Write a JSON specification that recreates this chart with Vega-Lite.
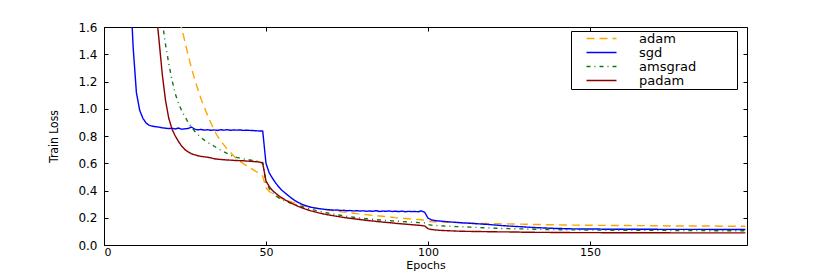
{
  "$schema": "https://vega.github.io/schema/vega-lite/v6.json",
  "width": 643,
  "height": 218,
  "autosize": {"type": "none"},
  "padding": {"left": 104, "top": 27, "right": 83, "bottom": 28},
  "background": "white",
  "config": {"view": {"stroke": null}, "font": "DejaVu Sans"},
  "data": {"values": [
    {"e":0,"adam":2.3,"sgd":2.3,"amsgrad":2.3,"padam":2.3},
    {"e":1,"adam":2.29,"sgd":2.28,"amsgrad":2.27,"padam":2.25},
    {"e":2,"adam":2.27,"sgd":2.26,"amsgrad":2.24,"padam":2.2},
    {"e":3,"adam":2.25,"sgd":2.24,"amsgrad":2.2,"padam":2.15},
    {"e":4,"adam":2.23,"sgd":2.21,"amsgrad":2.16,"padam":2.1},
    {"e":5,"adam":2.2,"sgd":2.18,"amsgrad":2.12,"padam":2.05},
    {"e":6,"adam":2.17,"sgd":2.14,"amsgrad":2.08,"padam":2.01},
    {"e":7,"adam":2.14,"sgd":2.08,"amsgrad":2.05,"padam":1.98},
    {"e":8,"adam":2.11,"sgd":1.95,"amsgrad":2.02,"padam":1.95},
    {"e":9,"adam":2.08,"sgd":1.45,"amsgrad":1.99,"padam":1.93},
    {"e":10,"adam":2.05,"sgd":1.12,"amsgrad":1.96,"padam":1.91},
    {"e":11,"adam":2.02,"sgd":0.99,"amsgrad":1.93,"padam":1.89},
    {"e":12,"adam":1.99,"sgd":0.93,"amsgrad":1.9,"padam":1.87},
    {"e":13,"adam":1.96,"sgd":0.895,"amsgrad":1.87,"padam":1.85},
    {"e":14,"adam":1.93,"sgd":0.878,"amsgrad":1.84,"padam":1.82},
    {"e":15,"adam":1.9,"sgd":0.872,"amsgrad":1.81,"padam":1.79},
    {"e":16,"adam":1.87,"sgd":0.868,"amsgrad":1.77,"padam":1.74},
    {"e":17,"adam":1.84,"sgd":0.865,"amsgrad":1.72,"padam":1.5},
    {"e":18,"adam":1.81,"sgd":0.86,"amsgrad":1.64,"padam":1.25},
    {"e":19,"adam":1.78,"sgd":0.857,"amsgrad":1.47,"padam":1.06},
    {"e":20,"adam":1.75,"sgd":0.855,"amsgrad":1.33,"padam":0.93},
    {"e":21,"adam":1.72,"sgd":0.856,"amsgrad":1.21,"padam":0.85},
    {"e":22,"adam":1.68,"sgd":0.852,"amsgrad":1.11,"padam":0.8},
    {"e":23,"adam":1.64,"sgd":0.858,"amsgrad":1.04,"padam":0.76},
    {"e":24,"adam":1.59,"sgd":0.85,"amsgrad":0.985,"padam":0.725},
    {"e":25,"adam":1.49,"sgd":0.853,"amsgrad":0.94,"padam":0.7},
    {"e":26,"adam":1.39,"sgd":0.855,"amsgrad":0.9,"padam":0.683},
    {"e":27,"adam":1.3,"sgd":0.866,"amsgrad":0.865,"padam":0.67},
    {"e":28,"adam":1.215,"sgd":0.85,"amsgrad":0.835,"padam":0.662},
    {"e":29,"adam":1.14,"sgd":0.845,"amsgrad":0.81,"padam":0.655},
    {"e":30,"adam":1.07,"sgd":0.848,"amsgrad":0.788,"padam":0.65},
    {"e":31,"adam":1.01,"sgd":0.843,"amsgrad":0.77,"padam":0.647},
    {"e":32,"adam":0.95,"sgd":0.846,"amsgrad":0.754,"padam":0.644},
    {"e":33,"adam":0.895,"sgd":0.842,"amsgrad":0.74,"padam":0.64},
    {"e":34,"adam":0.845,"sgd":0.845,"amsgrad":0.725,"padam":0.633},
    {"e":35,"adam":0.8,"sgd":0.841,"amsgrad":0.71,"padam":0.63},
    {"e":36,"adam":0.765,"sgd":0.846,"amsgrad":0.697,"padam":0.628},
    {"e":37,"adam":0.735,"sgd":0.843,"amsgrad":0.685,"padam":0.626},
    {"e":38,"adam":0.705,"sgd":0.847,"amsgrad":0.673,"padam":0.624},
    {"e":39,"adam":0.68,"sgd":0.842,"amsgrad":0.661,"padam":0.623},
    {"e":40,"adam":0.655,"sgd":0.844,"amsgrad":0.65,"padam":0.621},
    {"e":41,"adam":0.633,"sgd":0.843,"amsgrad":0.643,"padam":0.62},
    {"e":42,"adam":0.613,"sgd":0.845,"amsgrad":0.637,"padam":0.619},
    {"e":43,"adam":0.597,"sgd":0.841,"amsgrad":0.632,"padam":0.618},
    {"e":44,"adam":0.582,"sgd":0.843,"amsgrad":0.628,"padam":0.616},
    {"e":45,"adam":0.567,"sgd":0.841,"amsgrad":0.624,"padam":0.615},
    {"e":46,"adam":0.553,"sgd":0.84,"amsgrad":0.62,"padam":0.613},
    {"e":47,"adam":0.538,"sgd":0.838,"amsgrad":0.617,"padam":0.611},
    {"e":48,"adam":0.524,"sgd":0.837,"amsgrad":0.613,"padam":0.609},
    {"e":49,"adam":0.505,"sgd":0.836,"amsgrad":0.605,"padam":0.6},
    {"e":50,"adam":0.42,"sgd":0.6,"amsgrad":0.46,"padam":0.47},
    {"e":51,"adam":0.395,"sgd":0.53,"amsgrad":0.415,"padam":0.43},
    {"e":52,"adam":0.375,"sgd":0.49,"amsgrad":0.385,"padam":0.4},
    {"e":53,"adam":0.358,"sgd":0.455,"amsgrad":0.362,"padam":0.38},
    {"e":54,"adam":0.348,"sgd":0.425,"amsgrad":0.346,"padam":0.36},
    {"e":55,"adam":0.34,"sgd":0.4,"amsgrad":0.334,"padam":0.345},
    {"e":56,"adam":0.33,"sgd":0.38,"amsgrad":0.323,"padam":0.33},
    {"e":57,"adam":0.322,"sgd":0.36,"amsgrad":0.313,"padam":0.317},
    {"e":58,"adam":0.314,"sgd":0.342,"amsgrad":0.304,"padam":0.305},
    {"e":59,"adam":0.307,"sgd":0.325,"amsgrad":0.297,"padam":0.294},
    {"e":60,"adam":0.3,"sgd":0.312,"amsgrad":0.29,"padam":0.283},
    {"e":61,"adam":0.294,"sgd":0.3,"amsgrad":0.283,"padam":0.274},
    {"e":62,"adam":0.288,"sgd":0.291,"amsgrad":0.276,"padam":0.265},
    {"e":63,"adam":0.283,"sgd":0.283,"amsgrad":0.269,"padam":0.257},
    {"e":64,"adam":0.278,"sgd":0.277,"amsgrad":0.262,"padam":0.25},
    {"e":65,"adam":0.273,"sgd":0.272,"amsgrad":0.256,"padam":0.244},
    {"e":66,"adam":0.269,"sgd":0.268,"amsgrad":0.25,"padam":0.238},
    {"e":67,"adam":0.265,"sgd":0.265,"amsgrad":0.245,"padam":0.232},
    {"e":68,"adam":0.261,"sgd":0.262,"amsgrad":0.24,"padam":0.227},
    {"e":69,"adam":0.257,"sgd":0.26,"amsgrad":0.235,"padam":0.222},
    {"e":70,"adam":0.254,"sgd":0.258,"amsgrad":0.23,"padam":0.218},
    {"e":71,"adam":0.251,"sgd":0.256,"amsgrad":0.226,"padam":0.214},
    {"e":72,"adam":0.248,"sgd":0.257,"amsgrad":0.222,"padam":0.21},
    {"e":73,"adam":0.245,"sgd":0.253,"amsgrad":0.218,"padam":0.206},
    {"e":74,"adam":0.242,"sgd":0.255,"amsgrad":0.214,"padam":0.202},
    {"e":75,"adam":0.239,"sgd":0.251,"amsgrad":0.21,"padam":0.199},
    {"e":76,"adam":0.236,"sgd":0.253,"amsgrad":0.207,"padam":0.196},
    {"e":77,"adam":0.233,"sgd":0.25,"amsgrad":0.204,"padam":0.193},
    {"e":78,"adam":0.23,"sgd":0.252,"amsgrad":0.201,"padam":0.19},
    {"e":79,"adam":0.228,"sgd":0.249,"amsgrad":0.198,"padam":0.187},
    {"e":80,"adam":0.225,"sgd":0.251,"amsgrad":0.195,"padam":0.184},
    {"e":81,"adam":0.223,"sgd":0.248,"amsgrad":0.193,"padam":0.181},
    {"e":82,"adam":0.22,"sgd":0.25,"amsgrad":0.19,"padam":0.178},
    {"e":83,"adam":0.218,"sgd":0.247,"amsgrad":0.188,"padam":0.176},
    {"e":84,"adam":0.215,"sgd":0.252,"amsgrad":0.186,"padam":0.173},
    {"e":85,"adam":0.213,"sgd":0.246,"amsgrad":0.184,"padam":0.171},
    {"e":86,"adam":0.211,"sgd":0.249,"amsgrad":0.182,"padam":0.168},
    {"e":87,"adam":0.208,"sgd":0.247,"amsgrad":0.18,"padam":0.166},
    {"e":88,"adam":0.206,"sgd":0.25,"amsgrad":0.178,"padam":0.164},
    {"e":89,"adam":0.204,"sgd":0.246,"amsgrad":0.177,"padam":0.162},
    {"e":90,"adam":0.201,"sgd":0.248,"amsgrad":0.175,"padam":0.159},
    {"e":91,"adam":0.199,"sgd":0.245,"amsgrad":0.174,"padam":0.157},
    {"e":92,"adam":0.197,"sgd":0.249,"amsgrad":0.172,"padam":0.155},
    {"e":93,"adam":0.195,"sgd":0.244,"amsgrad":0.171,"padam":0.153},
    {"e":94,"adam":0.193,"sgd":0.247,"amsgrad":0.169,"padam":0.151},
    {"e":95,"adam":0.191,"sgd":0.245,"amsgrad":0.168,"padam":0.149},
    {"e":96,"adam":0.189,"sgd":0.246,"amsgrad":0.167,"padam":0.147},
    {"e":97,"adam":0.187,"sgd":0.244,"amsgrad":0.165,"padam":0.145},
    {"e":98,"adam":0.185,"sgd":0.25,"amsgrad":0.164,"padam":0.143},
    {"e":99,"adam":0.182,"sgd":0.24,"amsgrad":0.162,"padam":0.14},
    {"e":100,"adam":0.174,"sgd":0.198,"amsgrad":0.15,"padam":0.12},
    {"e":101,"adam":0.172,"sgd":0.185,"amsgrad":0.146,"padam":0.114},
    {"e":102,"adam":0.171,"sgd":0.18,"amsgrad":0.144,"padam":0.111},
    {"e":103,"adam":0.17,"sgd":0.177,"amsgrad":0.142,"padam":0.109},
    {"e":104,"adam":0.169,"sgd":0.175,"amsgrad":0.141,"padam":0.107},
    {"e":105,"adam":0.168,"sgd":0.173,"amsgrad":0.139,"padam":0.106},
    {"e":106,"adam":0.167,"sgd":0.171,"amsgrad":0.138,"padam":0.105},
    {"e":107,"adam":0.166,"sgd":0.169,"amsgrad":0.137,"padam":0.104},
    {"e":108,"adam":0.165,"sgd":0.167,"amsgrad":0.136,"padam":0.103},
    {"e":109,"adam":0.164,"sgd":0.166,"amsgrad":0.135,"padam":0.102},
    {"e":110,"adam":0.163,"sgd":0.164,"amsgrad":0.134,"padam":0.101},
    {"e":111,"adam":0.162,"sgd":0.162,"amsgrad":0.133,"padam":0.101},
    {"e":112,"adam":0.161,"sgd":0.161,"amsgrad":0.132,"padam":0.1},
    {"e":113,"adam":0.161,"sgd":0.159,"amsgrad":0.131,"padam":0.1},
    {"e":114,"adam":0.16,"sgd":0.158,"amsgrad":0.13,"padam":0.099},
    {"e":115,"adam":0.159,"sgd":0.156,"amsgrad":0.129,"padam":0.099},
    {"e":116,"adam":0.159,"sgd":0.155,"amsgrad":0.128,"padam":0.099},
    {"e":117,"adam":0.158,"sgd":0.153,"amsgrad":0.127,"padam":0.098},
    {"e":118,"adam":0.158,"sgd":0.152,"amsgrad":0.126,"padam":0.098},
    {"e":119,"adam":0.157,"sgd":0.15,"amsgrad":0.125,"padam":0.097},
    {"e":120,"adam":0.157,"sgd":0.148,"amsgrad":0.124,"padam":0.097},
    {"e":121,"adam":0.156,"sgd":0.146,"amsgrad":0.123,"padam":0.097},
    {"e":122,"adam":0.156,"sgd":0.144,"amsgrad":0.122,"padam":0.096},
    {"e":123,"adam":0.155,"sgd":0.142,"amsgrad":0.121,"padam":0.096},
    {"e":124,"adam":0.155,"sgd":0.141,"amsgrad":0.121,"padam":0.096},
    {"e":125,"adam":0.155,"sgd":0.139,"amsgrad":0.12,"padam":0.096},
    {"e":126,"adam":0.154,"sgd":0.138,"amsgrad":0.119,"padam":0.095},
    {"e":127,"adam":0.154,"sgd":0.136,"amsgrad":0.119,"padam":0.095},
    {"e":128,"adam":0.153,"sgd":0.135,"amsgrad":0.118,"padam":0.095},
    {"e":129,"adam":0.153,"sgd":0.134,"amsgrad":0.118,"padam":0.094},
    {"e":130,"adam":0.152,"sgd":0.132,"amsgrad":0.117,"padam":0.094},
    {"e":131,"adam":0.152,"sgd":0.131,"amsgrad":0.117,"padam":0.094},
    {"e":132,"adam":0.151,"sgd":0.129,"amsgrad":0.116,"padam":0.094},
    {"e":133,"adam":0.151,"sgd":0.128,"amsgrad":0.116,"padam":0.093},
    {"e":134,"adam":0.15,"sgd":0.127,"amsgrad":0.115,"padam":0.093},
    {"e":135,"adam":0.15,"sgd":0.126,"amsgrad":0.115,"padam":0.093},
    {"e":136,"adam":0.15,"sgd":0.125,"amsgrad":0.114,"padam":0.093},
    {"e":137,"adam":0.149,"sgd":0.124,"amsgrad":0.114,"padam":0.093},
    {"e":138,"adam":0.149,"sgd":0.123,"amsgrad":0.114,"padam":0.092},
    {"e":139,"adam":0.148,"sgd":0.122,"amsgrad":0.113,"padam":0.092},
    {"e":140,"adam":0.148,"sgd":0.121,"amsgrad":0.113,"padam":0.092},
    {"e":141,"adam":0.148,"sgd":0.121,"amsgrad":0.112,"padam":0.092},
    {"e":142,"adam":0.147,"sgd":0.12,"amsgrad":0.112,"padam":0.092},
    {"e":143,"adam":0.147,"sgd":0.119,"amsgrad":0.112,"padam":0.092},
    {"e":144,"adam":0.146,"sgd":0.119,"amsgrad":0.111,"padam":0.091},
    {"e":145,"adam":0.146,"sgd":0.118,"amsgrad":0.111,"padam":0.091},
    {"e":146,"adam":0.146,"sgd":0.118,"amsgrad":0.111,"padam":0.091},
    {"e":147,"adam":0.145,"sgd":0.117,"amsgrad":0.11,"padam":0.091},
    {"e":148,"adam":0.145,"sgd":0.117,"amsgrad":0.11,"padam":0.091},
    {"e":149,"adam":0.145,"sgd":0.117,"amsgrad":0.11,"padam":0.091},
    {"e":150,"adam":0.145,"sgd":0.117,"amsgrad":0.109,"padam":0.091},
    {"e":151,"adam":0.145,"sgd":0.117,"amsgrad":0.109,"padam":0.091},
    {"e":152,"adam":0.144,"sgd":0.117,"amsgrad":0.109,"padam":0.091},
    {"e":153,"adam":0.144,"sgd":0.117,"amsgrad":0.109,"padam":0.091},
    {"e":154,"adam":0.144,"sgd":0.116,"amsgrad":0.109,"padam":0.09},
    {"e":155,"adam":0.144,"sgd":0.116,"amsgrad":0.108,"padam":0.09},
    {"e":156,"adam":0.144,"sgd":0.116,"amsgrad":0.108,"padam":0.09},
    {"e":157,"adam":0.143,"sgd":0.116,"amsgrad":0.108,"padam":0.09},
    {"e":158,"adam":0.143,"sgd":0.116,"amsgrad":0.108,"padam":0.09},
    {"e":159,"adam":0.143,"sgd":0.116,"amsgrad":0.108,"padam":0.09},
    {"e":160,"adam":0.143,"sgd":0.116,"amsgrad":0.108,"padam":0.09},
    {"e":161,"adam":0.143,"sgd":0.116,"amsgrad":0.108,"padam":0.09},
    {"e":162,"adam":0.143,"sgd":0.116,"amsgrad":0.108,"padam":0.09},
    {"e":163,"adam":0.142,"sgd":0.116,"amsgrad":0.108,"padam":0.09},
    {"e":164,"adam":0.142,"sgd":0.116,"amsgrad":0.107,"padam":0.09},
    {"e":165,"adam":0.142,"sgd":0.116,"amsgrad":0.107,"padam":0.09},
    {"e":166,"adam":0.142,"sgd":0.116,"amsgrad":0.107,"padam":0.09},
    {"e":167,"adam":0.142,"sgd":0.116,"amsgrad":0.107,"padam":0.09},
    {"e":168,"adam":0.141,"sgd":0.116,"amsgrad":0.107,"padam":0.09},
    {"e":169,"adam":0.141,"sgd":0.116,"amsgrad":0.107,"padam":0.09},
    {"e":170,"adam":0.141,"sgd":0.116,"amsgrad":0.107,"padam":0.09},
    {"e":171,"adam":0.141,"sgd":0.115,"amsgrad":0.107,"padam":0.09},
    {"e":172,"adam":0.141,"sgd":0.115,"amsgrad":0.107,"padam":0.09},
    {"e":173,"adam":0.141,"sgd":0.115,"amsgrad":0.107,"padam":0.09},
    {"e":174,"adam":0.14,"sgd":0.115,"amsgrad":0.106,"padam":0.09},
    {"e":175,"adam":0.14,"sgd":0.115,"amsgrad":0.106,"padam":0.089},
    {"e":176,"adam":0.14,"sgd":0.115,"amsgrad":0.106,"padam":0.089},
    {"e":177,"adam":0.14,"sgd":0.115,"amsgrad":0.106,"padam":0.089},
    {"e":178,"adam":0.14,"sgd":0.115,"amsgrad":0.106,"padam":0.089},
    {"e":179,"adam":0.14,"sgd":0.115,"amsgrad":0.106,"padam":0.089},
    {"e":180,"adam":0.14,"sgd":0.115,"amsgrad":0.106,"padam":0.089},
    {"e":181,"adam":0.14,"sgd":0.115,"amsgrad":0.106,"padam":0.089},
    {"e":182,"adam":0.139,"sgd":0.115,"amsgrad":0.106,"padam":0.089},
    {"e":183,"adam":0.139,"sgd":0.115,"amsgrad":0.106,"padam":0.089},
    {"e":184,"adam":0.139,"sgd":0.115,"amsgrad":0.106,"padam":0.089},
    {"e":185,"adam":0.139,"sgd":0.115,"amsgrad":0.106,"padam":0.089},
    {"e":186,"adam":0.139,"sgd":0.115,"amsgrad":0.105,"padam":0.089},
    {"e":187,"adam":0.139,"sgd":0.114,"amsgrad":0.105,"padam":0.089},
    {"e":188,"adam":0.139,"sgd":0.114,"amsgrad":0.105,"padam":0.089},
    {"e":189,"adam":0.139,"sgd":0.114,"amsgrad":0.105,"padam":0.089},
    {"e":190,"adam":0.138,"sgd":0.114,"amsgrad":0.105,"padam":0.089},
    {"e":191,"adam":0.138,"sgd":0.114,"amsgrad":0.105,"padam":0.089},
    {"e":192,"adam":0.138,"sgd":0.114,"amsgrad":0.105,"padam":0.089},
    {"e":193,"adam":0.138,"sgd":0.114,"amsgrad":0.105,"padam":0.089},
    {"e":194,"adam":0.138,"sgd":0.114,"amsgrad":0.105,"padam":0.089},
    {"e":195,"adam":0.138,"sgd":0.114,"amsgrad":0.105,"padam":0.089},
    {"e":196,"adam":0.138,"sgd":0.114,"amsgrad":0.105,"padam":0.089},
    {"e":197,"adam":0.138,"sgd":0.114,"amsgrad":0.105,"padam":0.089},
    {"e":198,"adam":0.138,"sgd":0.114,"amsgrad":0.105,"padam":0.089}
  ]},
  "transform": [{"fold": ["adam", "sgd", "amsgrad", "padam"], "as": ["optimizer", "loss"]}],
  "layer": [
    {
      "mark": {"type": "line", "clip": true, "strokeWidth": 1.4},
      "encoding": {
        "x": {
          "field": "e", "type": "quantitative",
          "scale": {"domain": [0, 198.5], "nice": false, "zero": false},
          "axis": {
            "orient": "bottom", "values": [0, 50, 100, 150], "format": "d",
            "tickSize": -4, "tickColor": "black", "domainColor": "black",
            "labelColor": "black", "labelFontSize": 11, "labelFont": "DejaVu Sans",
            "labelPadding": 5, "grid": false,
            "title": "Epochs", "titleFont": "DejaVu Sans", "titleFontSize": 11,
            "titleFontWeight": "normal", "titleColor": "black", "titlePadding": 2
          }
        },
        "y": {
          "field": "loss", "type": "quantitative",
          "scale": {"domain": [0, 1.6], "nice": false, "zero": false},
          "axis": {
            "orient": "left", "values": [0, 0.2, 0.4, 0.6, 0.8, 1.0, 1.2, 1.4, 1.6], "format": ".1f",
            "tickSize": -4, "tickColor": "black", "domainColor": "black",
            "labelColor": "black", "labelFontSize": 12, "labelFont": "DejaVu Sans",
            "labelPadding": 11, "grid": false,
            "title": "Train Loss", "titleFont": "DejaVu Sans Condensed, Roboto Condensed, Liberation Sans Narrow, Roboto, sans-serif", "titleFontSize": 12,
            "titleFontWeight": "normal", "titleColor": "black", "titlePadding": 17
          }
        },
        "color": {
          "field": "optimizer", "type": "nominal",
          "scale": {"domain": ["adam", "sgd", "amsgrad", "padam"], "range": ["#FFA500", "#0000FF", "#117711", "#8B0000"]},
          "legend": {
            "orient": "none", "legendX": 467, "legendY": 4, "title": null,
            "strokeColor": "black", "fillColor": "white", "padding": 1,
            "symbolType": "M-3,0H3", "symbolSize": 100, "symbolStrokeWidth": 1.5, "symbolOffset": 23,
            "labelFont": "DejaVu Sans", "labelFontSize": 13, "labelColor": "black", "labelOffset": 31,
            "rowPadding": -1,
            "labelExpr": "datum.label + '\u2003\u2003\u2003\u200b'"
          }
        },
        "strokeDash": {
          "field": "optimizer", "type": "nominal",
          "scale": {"domain": ["adam", "sgd", "amsgrad", "padam"], "range": [[8, 5], [1, 0], [4, 4, 1, 4], [1, 0]]},
          "legend": {
            "orient": "none", "legendX": 467, "legendY": 4, "title": null,
            "strokeColor": "black", "fillColor": "white", "padding": 1,
            "symbolType": "M-3,0H3", "symbolSize": 100, "symbolStrokeWidth": 1.5, "symbolOffset": 23,
            "labelFont": "DejaVu Sans", "labelFontSize": 13, "labelColor": "black", "labelOffset": 31,
            "rowPadding": -1,
            "labelExpr": "datum.label + '\u2003\u2003\u2003\u200b'"
          }
        }
      }
    },
    {
      "mark": {"type": "point", "opacity": 0},
      "encoding": {
        "x": {
          "field": "e", "type": "quantitative",
          "scale": {"domain": [0, 198.5], "nice": false, "zero": false},
          "axis": {"orient": "top", "values": [0, 50, 100, 150], "labels": false, "title": null, "tickSize": -4, "tickColor": "black", "domainColor": "black", "grid": false}
        },
        "y": {
          "field": "loss", "type": "quantitative",
          "scale": {"domain": [0, 1.6], "nice": false, "zero": false},
          "axis": {"orient": "right", "values": [0, 0.2, 0.4, 0.6, 0.8, 1.0, 1.2, 1.4, 1.6], "labels": false, "title": null, "tickSize": -4, "tickColor": "black", "domainColor": "black", "grid": false}
        }
      }
    }
  ],
  "resolve": {"axis": {"x": "independent", "y": "independent"}}
}
